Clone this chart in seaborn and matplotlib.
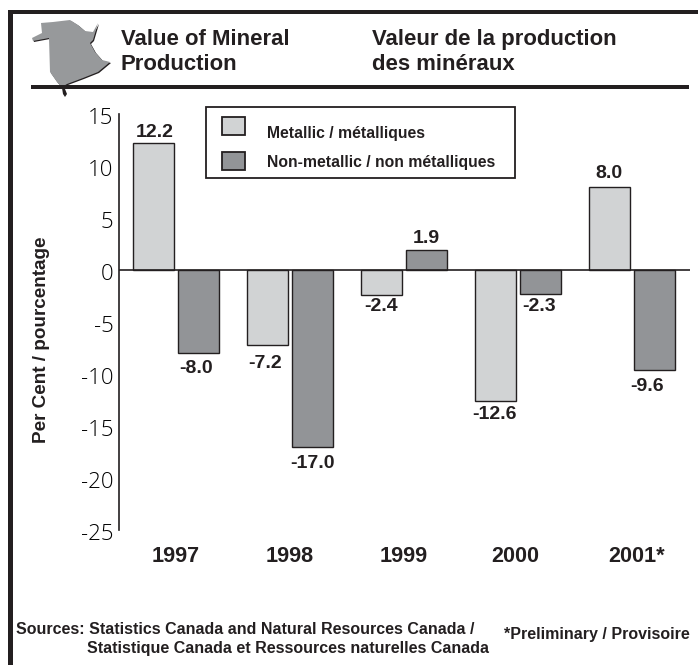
import pandas as pd
import numpy as np
import matplotlib
matplotlib.use('Agg')
import matplotlib.pyplot as plt
from matplotlib.patches import Polygon, Rectangle
from matplotlib.transforms import ScaledTranslation
import seaborn as sns

years = ['1997', '1998', '1999', '2000', '2001*']
metallic = [12.2, -7.2, -2.4, -12.6, 8.0]
non_metallic = [-8.0, -17.0, 1.9, -2.3, -9.6]
y_ticks = [15, 10, 5, 0, -5, -10, -15, -20, -25]
series_names = ['Metallic / métalliques', 'Non-metallic / non métalliques']
light = '#d1d3d4'
dark = '#929497'
ink = '#231f20'

# hand placed label offsets from the bar end, in pixels
metallic_shift = [(1, 11), (-2, -19), (0, -12), (-1, -13), (0, 13)]
non_metallic_shift = [(-2, -15), (0, -17), (0, 12), (-1, -13), (-7, -17)]
year_x = [176, 290, 404, 515, 637]
year_y = [556, 557, 557, 557, 557]

# outline of the province in the header, in image pixels
province_x = [32, 42, 41, 53, 70, 78, 85, 93, 98, 93, 90, 95, 102, 110, 98, 83, 67, 62, 57, 50, 49, 33]
province_y = [38, 33, 23, 22, 20, 25, 31, 32, 23, 40, 43, 52, 60, 62, 72, 78, 84, 87, 82, 72, 38, 41]

W, H = 698, 665
sns.set_theme(style='white')
plt.rcParams['font.family'] = ['Liberation Sans', 'DejaVu Sans']

df = pd.DataFrame({
    'year': years * 2,
    'series': [series_names[0]] * 5 + [series_names[1]] * 5,
    'value': metallic + non_metallic,
})

fig = plt.figure(figsize=(W / 100, H / 100), dpi=100, facecolor='white')


def px(x, y):
    return x / W, 1 - y / H


def put(x, y, s, size=12, ha='left', va='baseline', **kw):
    fig.text(*px(x, y), s, fontsize=size, fontweight='bold', color=ink, ha=ha, va=va, **kw)


def box(x0, y0, x1, y1, **kw):
    # rectangle given by image pixels, y0 above y1
    kw.setdefault('facecolor', ink)
    kw.setdefault('lw', 0)
    fig.add_artist(Rectangle(px(x0, y1), (x1 - x0) / W, (y1 - y0) / H, **kw))


# axis spans y 15..-25 between pixels 114 and 530
left, right, top, bottom = 119, 690, 114, 530
ax = fig.add_axes([left / W, 1 - bottom / H, (right - left) / W, (bottom - top) / H])
ax.patch.set_alpha(0)
sns.barplot(data=df, x='year', y='value', hue='series', order=years, hue_order=series_names,
            palette=[light, dark], saturation=1, width=0.79, gap=0.09, edgecolor=ink, linewidth=1.0,
            legend=False, ax=ax)
ax.set_xlim(-0.5, 4.51)
ax.set_ylim(-25, 15)
ax.set_xlabel('')
ax.set_ylabel('')
ax.set_yticks(y_ticks)
ax.set_yticklabels([str(t) for t in y_ticks], fontfamily='Open Sans', fontsize=16,
                   fontweight='light', color='#000000')
ax.tick_params(axis='y', length=0, pad=4)
ax.tick_params(axis='x', length=0, labelbottom=False)
# tick numbers sit a little under their level in the original
nudge = ScaledTranslation(0, -2 / 100, fig.dpi_scale_trans)
for lab in ax.get_yticklabels():
    lab.set_transform(lab.get_transform() + nudge)
sns.despine(ax=ax, top=True, right=True, bottom=True)
ax.spines['left'].set_color(ink)
ax.spines['left'].set_linewidth(1.2)
ax.axhline(0, color=ink, lw=1.2, zorder=5)

# value labels
for container, values, shifts in zip(ax.containers, [metallic, non_metallic],
                                     [metallic_shift, non_metallic_shift]):
    for bar, v, (dx, dy) in zip(container, values, shifts):
        ax.annotate(f'{v:.1f}', (bar.get_x() + bar.get_width() / 2, v), xytext=(dx, dy),
                    textcoords='offset pixels', ha='center', va='center',
                    fontsize=14, fontweight='bold', color=ink)

for yr, xx, yy in zip(years, year_x, year_y):
    put(xx, yy, yr, size=15.6, ha='center', va='center')

fig.text(*px(42, 340), 'Per Cent / pourcentage', rotation=90, fontsize=13.6, fontweight='bold',
         color=ink, ha='center', va='center')

# province shape, with its dark offset edge
fig.add_artist(Polygon([px(a + 1, b + 1) for a, b in zip(province_x, province_y)], closed=True,
                       facecolor=ink, edgecolor='none', transform=fig.transFigure))
fig.add_artist(Polygon([px(a, b) for a, b in zip(province_x, province_y)], closed=True,
                       facecolor='#97999b', edgecolor='none', transform=fig.transFigure))
fig.add_artist(Polygon([px(a, b) for a, b in zip([62, 65, 67, 65, 63], [88, 89, 94, 97, 94])], closed=True,
                       facecolor=ink, edgecolor='none', transform=fig.transFigure))

# frame and header rule
box(8, 10, 12.5, H)
box(8, 10, W, 14)
box(31, 85, 689, 89)

# titles
put(121, 45, 'Value of Mineral', size=15.9)
put(121, 70, 'Production', size=15.9)
put(372, 45, 'Valeur de la production', size=15.9)
put(372, 70, 'des minéraux', size=15.9)

# legend box
box(206, 107, 515, 178, facecolor='white', edgecolor=ink, lw=1.3, zorder=6)
box(222, 117, 245, 135, facecolor=light, edgecolor=ink, lw=1.3, zorder=7)
box(222, 152, 245, 170, facecolor=dark, edgecolor=ink, lw=1.3, zorder=7)
put(267, 138, series_names[0], size=11.3, zorder=8)
put(267, 167, series_names[1], size=11.3, zorder=8)

# footer
put(16, 634, 'Sources: Statistics Canada and Natural Resources Canada /', size=11.5)
put(87, 653, 'Statistique Canada et Ressources naturelles Canada', size=11.5)
put(690, 639, '*Preliminary / Provisoire', size=11.5, ha='right')

fig.savefig('out.png', dpi=100)
